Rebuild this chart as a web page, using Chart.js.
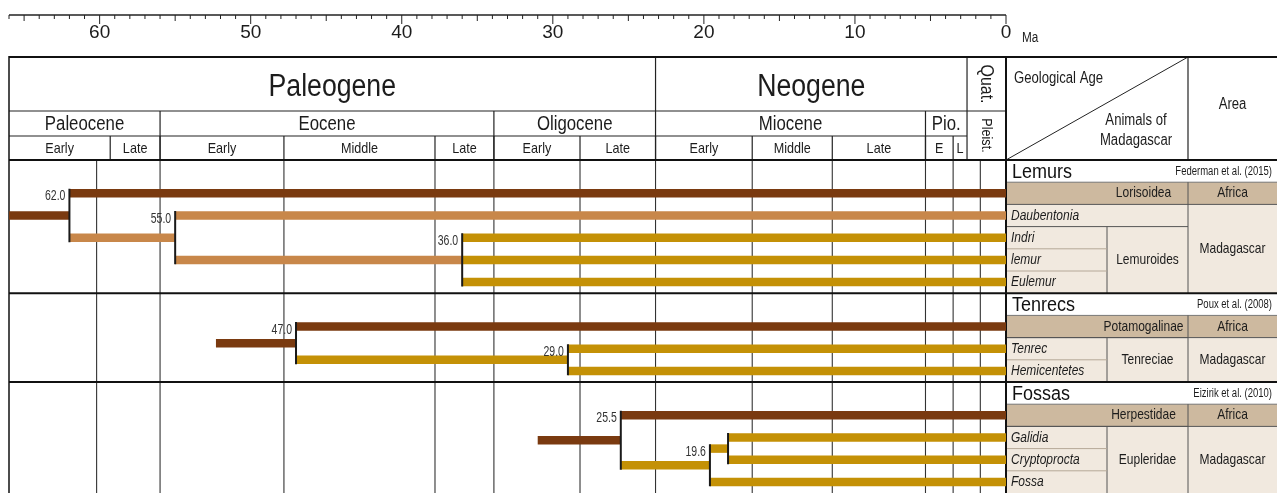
<!DOCTYPE html>
<html>
<head>
<script src="https://cdn.jsdelivr.net/npm/chart.js@4.4.1/dist/chart.umd.min.js"></script>
<style>
  body { margin: 0; background: #fff; }
</style>
</head>
<body>
<canvas id="chart" width="1277" height="493"></canvas>
<script>
// geological time scale, Ma
const periodNames = ['Paleogene', 'Neogene', 'Quat.'];
const periodBounds = [66, 23.2, 2.58, 0];
const epochNames = ['Paleocene', 'Eocene', 'Oligocene', 'Miocene', 'Pio.', 'Pleist.'];
const epochBounds = [66, 56, 33.9, 23.2, 5.33, 2.58, 0];
const stageNames = ['Early', 'Late', 'Early', 'Middle', 'Late', 'Early', 'Late', 'Early', 'Middle', 'Late', 'E', 'L'];
const stageBounds = [66, 59.3, 56, 47.8, 37.8, 33.9, 28.2, 23.2, 16.8, 11.5, 5.33, 3.5, 2.58];
const gridAges = [60.2, 56, 47.8, 37.8, 33.9, 28.2, 23.2, 16.8, 11.5, 5.33, 3.5, 1.7];
const verticalNames = ['Quat.', 'Pleist.'];

// trees: [node age, children...], strings are tips
const cladeNames = ['Lemurs', 'Tenrecs', 'Fossas'];
const citations = ['Federman et al. (2015)', 'Poux et al. (2008)', 'Eizirik et al. (2010)'];
const stemAges = [66, 52.3, 31.0];
const lemurTree = [62.0, 'Lorisoidea', [55.0, 'Daubentonia', [36.0, 'Indri', 'lemur', 'Eulemur']]];
const tenrecTree = [47.0, 'Potamogalinae', [29.0, 'Tenrec', 'Hemicentetes']];
const fossaTree = [25.5, 'Herpestidae', [19.6, [18.4, 'Galidia', 'Cryptoprocta'], 'Fossa']];
const groupNames = ['Lemuroides', 'Tenreciae', 'Eupleridae'];
const groupNodes = [36.0, 29.0, 19.6];
const labelledNodes = [62.0, 55.0, 36.0, 47.0, 29.0, 25.5, 19.6];
const areaNames = ['Africa', 'Madagascar'];
const darkBranches = ['stem', 'Lorisoidea', 'Potamogalinae', 'Herpestidae'];
const lightBranches = ['Daubentonia', 55.0, 36.0];

const colours = { dark: '#7a3a10', light: '#c8874a', gold: '#c49106' };
const tan = '#cdb99f', beige = '#f1e9df';

// walk the trees into branches, joins and table rows
const trees = [lemurTree, tenrecTree, fossaTree];
const branches = [], joins = [], nodeTags = [], blocks = [];
let rowCount = 0;
trees.forEach((tree, k) => {
    const block = { start: rowCount, tips: [], group: null };
    let next = rowCount + 1;
    function visit(node, fromAge, key) {
        const tone = darkBranches.includes(key) ? 'dark' : lightBranches.includes(key) ? 'light' : 'gold';
        if (typeof node === 'string') {
            const r = next++ + 0.5;
            branches.push({ from: fromAge, to: 0, row: r, tone });
            block.tips.push({ name: node, row: r });
            return { row: r, lo: r, hi: r };
        }
        const age = node[0];
        const kids = node.slice(1).map(ch => visit(ch, age, typeof ch === 'string' ? ch : ch[0]));
        const first = kids[0], last = kids[kids.length - 1];
        const r = (first.row + last.row) / 2;
        branches.push({ from: fromAge, to: age, row: r, tone });
        joins.push({ age, top: first.row, bottom: last.row });
        if (labelledNodes.includes(age)) nodeTags.push({ age, row: first.row });
        const span = { row: r, lo: first.lo, hi: last.hi };
        if (age === groupNodes[k]) block.group = span;
        return span;
    }
    visit(tree, stemAges[k], 'stem');
    block.end = next;
    rowCount = next;
    blocks.push(block);
});

const datasets = [];
joins.forEach(j => datasets.push({
    data: [{ x: j.age, y: j.top - 0.2 }, { x: j.age, y: j.bottom + 0.2 }],
    borderColor: '#1a1a1a', borderWidth: 2, order: 0
}));
branches.forEach(b => datasets.push({
    data: [{ x: b.from, y: b.row }, { x: b.to, y: b.row }],
    borderColor: colours[b.tone], borderWidth: 8.5, order: 1
}));
datasets.forEach(d => Object.assign(d, { showLine: true, pointRadius: 0, borderCapStyle: 'butt', fill: false }));

function text(ctx, s, x, y, size, opts = {}) {
    ctx.save();
    ctx.font = (opts.italic ? 'italic ' : '') + size + 'px "Liberation Sans", Arial, sans-serif';
    ctx.fillStyle = opts.color || '#1c1c1c';
    ctx.textAlign = opts.align || 'center';
    ctx.textBaseline = 'middle';
    ctx.translate(x, y);
    if (opts.rotate) ctx.rotate(opts.rotate);
    ctx.scale(opts.sx ?? 0.84, 1);
    ctx.fillText(s, 0, 0);
    ctx.restore();
}
function line(ctx, x1, y1, x2, y2, w = 1, c = '#222') {
    ctx.save();
    ctx.strokeStyle = c;
    ctx.lineWidth = w;
    ctx.beginPath();
    ctx.moveTo(x1, y1);
    ctx.lineTo(x2, y2);
    ctx.stroke();
    ctx.restore();
}

const timescale = {
    id: 'timescale',
    beforeDatasetsDraw(chart) {
        const ctx = chart.ctx, a = chart.chartArea;
        const px = v => chart.scales.x.getPixelForValue(v);
        const py = v => chart.scales.y.getPixelForValue(v);
        const rulerY = 15, headTop = 57, head1 = 111, head2 = 136, headBot = a.top;
        const colB = a.right + 101, colC = a.right + 182, colEnd = chart.width;

        // ruler
        line(ctx, px(66), rulerY, px(0), rulerY, 1.5);
        for (let m = 0; m <= 66; m++) {
            const len = m % 10 === 0 ? 9 : m % 5 === 0 ? 6 : 4;
            line(ctx, px(m), rulerY, px(m), rulerY + len, 1);
            if (m % 10 === 0) text(ctx, String(m), px(m), 33, 19, { sx: 1 });
        }
        text(ctx, 'Ma', px(0) + 16, 38, 14, { align: 'left' });

        // header: periods
        periodNames.forEach((n, i) => {
            const x0 = px(periodBounds[i]), x1 = px(periodBounds[i + 1]);
            if (i > 0) line(ctx, x0, headTop, x0, head1, 1.2);
            if (verticalNames.includes(n)) text(ctx, n, (x0 + x1) / 2, (headTop + head1) / 2, 19, { rotate: Math.PI / 2 });
            else text(ctx, n, (x0 + x1) / 2, (headTop + head1) / 2 + 3, 31, { sx: 0.86 });
        });
        // epochs
        epochNames.forEach((n, i) => {
            const x0 = px(epochBounds[i]), x1 = px(epochBounds[i + 1]);
            const bottom = verticalNames.includes(n) ? headBot : head2;
            if (i > 0) line(ctx, x0, head1, x0, headBot, 1.2);
            if (verticalNames.includes(n)) text(ctx, n, (x0 + x1) / 2, (head1 + bottom) / 2, 15, { rotate: Math.PI / 2 });
            else text(ctx, n, (x0 + x1) / 2, (head1 + bottom) / 2 + 1, 20);
        });
        // stages
        stageNames.forEach((n, i) => {
            const x0 = px(stageBounds[i]), x1 = px(stageBounds[i + 1]);
            if (i > 0) line(ctx, x0, head2, x0, headBot, 1.2);
            text(ctx, n, (x0 + x1) / 2, (head2 + headBot) / 2 + 1, 15);
        });
        line(ctx, px(66), head1, px(0), head1, 1.2);
        line(ctx, px(66), head2, px(2.58), head2, 1.2);

        // grid through the tree area
        gridAges.forEach(g => line(ctx, px(g), a.top, px(g), a.bottom, 1.1, '#333'));

        // right-hand table
        blocks.forEach((b, k) => {
            const yT = py(b.start), yO = py(b.start + 1), yI = py(b.start + 2), yE = py(b.end);
            ctx.fillStyle = tan;
            ctx.fillRect(a.right, yO, colEnd - a.right, yI - yO);
            ctx.fillStyle = beige;
            ctx.fillRect(a.right, yI, colEnd - a.right, yE - yI);
            text(ctx, cladeNames[k], a.right + 6, (yT + yO) / 2 + 1, 20, { align: 'left', sx: 0.9, color: '#111' });
            text(ctx, citations[k], colEnd - 5, (yT + yO) / 2, 12.5, { align: 'right', sx: 0.76 });
            const outgroup = b.tips[0];
            text(ctx, outgroup.name, (colB + colC) / 2 - 4, (yO + yI) / 2, 15, { sx: 0.8 });
            text(ctx, areaNames[0], (colC + colEnd) / 2, (yO + yI) / 2, 15, { sx: 0.8 });
            text(ctx, areaNames[1], (colC + colEnd) / 2, (yI + yE) / 2, 15, { sx: 0.8 });
            line(ctx, a.right, yO, colEnd, yO, 1, '#777');
            line(ctx, a.right, yI, colEnd, yI, 1, '#555');
            line(ctx, colC, yO, colC, yE, 1, '#555');
            const g = b.group, gTop = py(g.lo - 0.5), gBot = py(g.hi + 0.5);
            line(ctx, colB, gTop, colB, gBot, 1, '#555');
            line(ctx, a.right, gTop, colC, gTop, 1, '#555');
            text(ctx, groupNames[k], (colB + colC) / 2, (gTop + gBot) / 2, 15, { sx: 0.8 });
            b.tips.slice(1).forEach((t, i) => {
                if (i > 0 && t.row > g.lo) line(ctx, a.right, py(t.row - 0.5), colB, py(t.row - 0.5), 1, '#b5a898');
                text(ctx, t.name, a.right + 5, py(t.row), 15, { align: 'left', italic: true, sx: 0.8 });
            });
            if (k > 0) line(ctx, px(66), yT, colEnd, yT, 2, '#111');
        });

        // header cell of the right-hand table
        line(ctx, a.right, headBot, colC, headTop, 1, '#222');
        line(ctx, colC, headTop, colC, headBot, 1.2);
        text(ctx, 'Geological Age', a.right + 8, 79, 16, { align: 'left', sx: 0.82 });
        text(ctx, 'Animals of', 1136, 121, 16, { sx: 0.82 });
        text(ctx, 'Madagascar', 1136, 141, 16, { sx: 0.82 });
        text(ctx, 'Area', (colC + colEnd) / 2, 105, 16, { sx: 0.82 });

        // frame
        line(ctx, px(66), headTop, colEnd, headTop, 2, '#111');
        line(ctx, px(66), headBot, colEnd, headBot, 2, '#111');
        line(ctx, px(66), headTop - 1, px(66), a.bottom, 1.5, '#111');
        line(ctx, px(0), headTop - 1, px(0), a.bottom, 2, '#111');
    },
    afterDatasetsDraw(chart) {
        const px = v => chart.scales.x.getPixelForValue(v);
        const py = v => chart.scales.y.getPixelForValue(v);
        nodeTags.forEach(t => text(chart.ctx, t.age.toFixed(1), px(t.age) - 4, py(t.row) + 3, 15, { align: 'right', sx: 0.7, color: '#333' }));
    }
};

new Chart(document.getElementById('chart'), {
    type: 'scatter',
    data: { datasets },
    options: {
        responsive: false,
        animation: false,
        layout: { padding: { left: 9, right: 271, top: 160, bottom: 0 } },
        plugins: { legend: { display: false }, tooltip: { enabled: false } },
        scales: {
            x: { type: 'linear', min: 0, max: 66, reverse: true, display: false },
            y: { type: 'linear', min: 0, max: rowCount, reverse: true, display: false }
        }
    },
    plugins: [timescale]
});
</script>
</body>
</html>
